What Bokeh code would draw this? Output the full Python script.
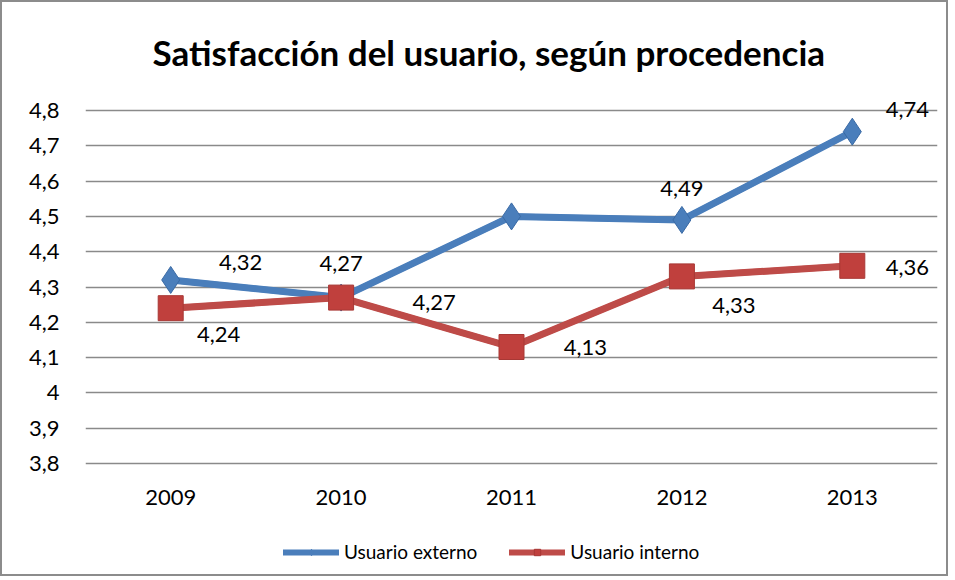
from bokeh.plotting import figure
from bokeh.models import (ColumnDataSource, Legend, LegendItem, CustomJSTickFormatter, Title,
                          Range1d, LabelSet, FixedTicker)
from bokeh.core.properties import value
from bokeh.embed import file_html
from bokeh.resources import INLINE

# ---- data ----
years = ["2009", "2010", "2011", "2012", "2013"]
externo = [4.32, 4.27, 4.50, 4.49, 4.74]
interno = [4.24, 4.27, 4.13, 4.33, 4.36]
externo_show = [True, True, False, True, True]
interno_show = [True, True, True, True, True]
series_names = ["Usuario externo", "Usuario interno"]
title_text = "Satisfacción del usuario, según procedencia"
y_ticks = [3.8, 3.9, 4.0, 4.1, 4.2, 4.3, 4.4, 4.5, 4.6, 4.7, 4.8]

# label offsets (style, in pixels; positive dy = downwards)
ext_dx = [70, 0, 0, 0, 55]
ext_dy = [-17, -34, -31, -31, -22]
int_dx = [48, 93, 74, 52, 55]
int_dy = [26, 5, 0, 29, 2]

BLUE = "#4A7EBB"
RED = "#BE4B48"
FONT = "Lato"

def fmt(v):
    return f"{v:.2f}".replace(".", ",")

# layout (pixels); the 2px CSS border sits outside the canvas
W, H = 948, 576
TOP, BOTTOM = 90, 8          # borders around the frame
PX_PER_UNIT = 353.0          # pixels per 1.0 of the value axis
LINE_HI_PX, LINE_LO_PX = 110, 463   # page y of the top / bottom grid lines
y_lo, y_hi = y_ticks[0], y_ticks[-1]
frame_top = TOP + 2
frame_bot = H + 2 - BOTTOM
extra_top = (LINE_HI_PX - frame_top) / PX_PER_UNIT
extra_bot = (frame_bot - LINE_LO_PX) / PX_PER_UNIT

p = figure(width=W, height=H, x_range=years,
           y_range=Range1d(y_lo - extra_bot, y_hi + extra_top),
           output_backend="svg", toolbar_location=None,
           min_border_left=83, min_border_right=13, min_border_top=TOP, min_border_bottom=BOTTOM)
p.outline_line_color = None
p.background_fill_color = "white"
p.border_fill_color = "white"
p.styles = {"border": "2px solid #8c8c8c"}

p.title = Title(text=title_text, align="left", text_font=FONT, text_font_size="35px",
                text_font_style="bold", text_color="black", offset=67, standoff=40)

p.xaxis.visible = False
p.xgrid.grid_line_color = None
p.yaxis.ticker = FixedTicker(ticks=y_ticks)
p.ygrid.grid_line_color = "#8a8a8a"
p.ygrid.grid_line_width = 1.6
p.yaxis.formatter = CustomJSTickFormatter(code="""
    const s = (Math.round(tick*10)/10).toString();
    return s.replace('.', ',');
""")
p.yaxis.axis_line_color = None
p.yaxis.major_tick_line_color = None
p.yaxis.minor_tick_line_color = None
p.yaxis.major_label_text_font = FONT
p.yaxis.major_label_text_font_size = "22px"
p.yaxis.major_label_text_color = "black"
p.yaxis.major_label_standoff = 20

# category labels under the 3.8 line
cat_src = ColumnDataSource(dict(x=years, y=[y_lo] * len(years), t=years))
p.add_layout(LabelSet(x="x", y="y", text="t", source=cat_src, y_offset=-34,
                      text_font=value(FONT), text_font_size=value("22px"), text_color="black",
                      text_align="center", text_baseline="middle"))

src_e = ColumnDataSource(dict(x=years, y=externo,
                              t=[fmt(v) if s else "" for v, s in zip(externo, externo_show)],
                              dx=ext_dx, dy=[-d for d in ext_dy]))
src_i = ColumnDataSource(dict(x=years, y=interno,
                              t=[fmt(v) if s else "" for v, s in zip(interno, interno_show)],
                              dx=int_dx, dy=[-d for d in int_dy]))

# legend-sized proxies, drawn underneath the real marks (fully hidden by them)
le_line = p.line("x", "y", source=src_e, line_color=BLUE, line_width=6, line_cap="round")
le_mark = p.scatter("x", "y", source=src_e, marker="diamond", size=14, fill_color=BLUE, line_color=BLUE)
li_line = p.line("x", "y", source=src_i, line_color=RED, line_width=6, line_cap="round")
li_mark = p.scatter("x", "y", source=src_i, marker="square", size=12, fill_color="#C0403D",
                    line_color="#A83835")

p.line("x", "y", source=src_e, line_color=BLUE, line_width=7, line_join="round")
p.scatter("x", "y", source=src_e, marker="diamond", size=27, fill_color=BLUE,
          line_color="#3A6AA5", line_width=1)
p.line("x", "y", source=src_i, line_color=RED, line_width=7, line_join="round")
p.scatter("x", "y", source=src_i, marker="square", size=25, fill_color="#C0403D",
          line_color="#A83835", line_width=1)

for src in (src_e, src_i):
    p.add_layout(LabelSet(x="x", y="y", text="t", source=src, x_offset="dx", y_offset="dy",
                          text_font=value(FONT), text_font_size=value("22px"), text_color="black",
                          text_align="center", text_baseline="middle"))

legend = Legend(items=[LegendItem(label=series_names[0], renderers=[le_line, le_mark]),
                       LegendItem(label=series_names[1], renderers=[li_line, li_mark])],
                orientation="horizontal", location=(198, 7),
                label_text_font=FONT, label_text_font_size="19px", label_text_color="black",
                glyph_width=56, glyph_height=16, label_standoff=5, spacing=32,
                border_line_color=None, background_fill_alpha=0, padding=4, margin=0)
p.add_layout(legend, "center")

open("out.html", "w").write(file_html(p, INLINE))
